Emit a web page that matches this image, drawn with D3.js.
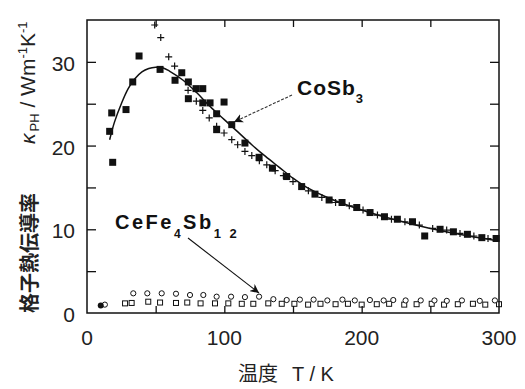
<!DOCTYPE html>
<html>
<head>
<meta charset="utf-8">
<script src="https://cdn.jsdelivr.net/npm/d3@7"></script>
<style>
  body { margin: 0; background: #fff; }
  svg { display: block; }
</style>
</head>
<body>
<svg id="chart" width="525" height="389"></svg>
<script>
// CoSb3 filled squares (T in K, kappa in W/mK)
var sqTemp  = [16.5, 18.0, 18.7, 28.4, 33.3, 37.9, 53.2, 64.1, 69.0, 73.8, 73.8, 79.4, 84.3, 84.3, 89.6, 99.8, 94.4, 94.4, 105.4, 115, 125.3, 135, 145.4, 156.3, 166, 176.3, 185.7, 196.4, 206.1, 216.6, 226, 237, 245.9, 257.1, 266.8, 277, 287.5, 297.9];
var sqKappa = [21.7, 23.9, 18.0, 24.3, 27.6, 30.7, 29.1, 27.8, 28.7, 27.6, 25.6, 26.8, 26.8, 25.1, 25.1, 25.2, 23.8, 21.9, 22.5, 20.3, 18.6, 17.3, 16.3, 15.1, 14.2, 13.5, 13.2, 12.6, 12.0, 11.5, 11.2, 10.9, 9.2, 10.0, 9.7, 9.4, 9.0, 8.9];

// CoSb3 plus signs
var plusTemp  = [49.3, 53.7, 59.5, 63.8, 73.6, 79.6, 84.3, 89, 94.4, 99.8, 105.4, 109.7, 115, 120, 125.5, 130.9, 137, 143, 150, 161.2, 171, 181, 191, 201, 211.5, 221.7, 231.5, 242, 251.7, 261.9, 271.6, 281.7, 292];
var plusKappa = [34.4, 32.9, 30.6, 29.5, 26.6, 25.3, 24.2, 23.3, 22.3, 21.5, 20.7, 20.1, 19.3, 18.8, 18.2, 17.7, 17.0, 16.4, 15.7, 14.6, 13.8, 13.2, 12.8, 12.3, 11.7, 11.2, 10.9, 10.5, 10.1, 9.9, 9.5, 9.2, 8.9];

// fitted curve
var fitTemp  = [16.5, 20, 25, 30, 35, 40, 45, 50, 55, 60, 70, 80, 90, 100, 110, 120, 130, 140, 150, 160, 175, 200, 225, 250, 275, 300];
var fitKappa = [20.7, 22.8, 25.0, 26.8, 28.0, 28.8, 29.2, 29.35, 29.3, 28.9, 27.8, 26.3, 24.6, 23.1, 21.6, 20.1, 18.7, 17.4, 16.1, 15.0, 13.8, 12.3, 11.1, 10.1, 9.3, 8.6];

// CeFe4Sb12 open squares
var ceSqTemp  = [27.7, 32.5, 44.6, 53.2, 64.8, 73, 82.7, 93.2, 102.9, 112.7, 121.1, 132, 141.8, 151, 161, 170, 181, 190, 200, 211, 220, 231, 240, 251, 260, 270, 281, 290, 300];
var ceSqKappa = [1.15, 1.2, 1.35, 1.25, 1.2, 1.25, 1.15, 1.15, 1.15, 1.1, 1.1, 1.15, 1.1, 1.1, 1.0, 1.1, 1.05, 1.1, 1.0, 1.05, 1.1, 1.0, 1.05, 1.1, 1.0, 1.05, 1.1, 1.0, 1.05];

// CeFe4Sb12 open circles
var ceCircTemp  = [13, 33.7, 43.9, 54.4, 64.8, 75, 84.7, 94.4, 104.9, 115, 125.3, 135.7, 145.4, 155, 165, 175, 186, 195, 206, 216, 223, 232, 243, 253, 262, 273, 286, 297];
var ceCircKappa = [1.0, 2.35, 2.35, 2.35, 2.3, 2.15, 2.15, 1.95, 1.95, 1.9, 1.95, 1.65, 1.55, 1.6, 1.6, 1.5, 1.6, 1.5, 1.55, 1.5, 1.55, 1.5, 1.5, 1.5, 1.45, 1.5, 1.45, 1.5];
var ceFilledTemp  = [10];
var ceFilledKappa = [0.9];

var xTicks = [0, 100, 200, 300];
var yTicks = [0, 10, 20, 30];

var svg = d3.select("#chart");
var margin = {left: 87, right: 26, top: 20, bottom: 76};
var width = 525 - margin.left - margin.right, height = 389 - margin.top - margin.bottom;
var ink = "#111";

var x = d3.scaleLinear().domain([0, 300]).range([0, width]);
var y = d3.scaleLinear().domain([0, 35]).range([height, 0]);

var g = svg.append("g").attr("transform", "translate(" + margin.left + "," + margin.top + ")");

var defs = svg.append("defs");
defs.append("marker").attr("id", "arrow")
    .attr("viewBox", "0 0 10 10").attr("refX", 10).attr("refY", 5)
    .attr("markerWidth", 9).attr("markerHeight", 9).attr("markerUnits", "userSpaceOnUse")
    .attr("orient", "auto")
    .append("path").attr("d", "M0,0 L10,5 L0,10 L3,5 Z").attr("fill", ink);

// frame with inward ticks
g.append("rect").attr("width", width).attr("height", height)
    .attr("fill", "none").attr("stroke", ink).attr("stroke-width", 1.5);

var minorX = d3.range(50, 300, 50), minorY = d3.range(5, 35, 5);
g.append("g").call(d3.axisBottom(x).tickValues(minorX).tickSize(-7).tickFormat(""))
    .attr("transform", "translate(0," + height + ")");
g.append("g").call(d3.axisTop(x).tickValues(minorX).tickSize(-7).tickFormat(""));
g.append("g").call(d3.axisLeft(y).tickValues(minorY).tickSize(-9).tickFormat(""));
g.append("g").call(d3.axisRight(y).tickValues(minorY).tickSize(-9).tickFormat(""))
    .attr("transform", "translate(" + width + ",0)");
g.selectAll(".domain").remove();
g.selectAll(".tick line").attr("stroke", ink).attr("stroke-width", 1.3);

// tick labels
g.selectAll(".xlab").data(xTicks).enter().append("text")
    .attr("x", function (d) { return x(d); }).attr("y", height + 32)
    .attr("text-anchor", "middle")
    .style("font-family", "Liberation Sans, Arial, sans-serif").style("font-size", "21px")
    .attr("fill", "#222").text(function (d) { return d; });
g.selectAll(".ylab").data(yTicks).enter().append("text")
    .attr("x", -12).attr("y", function (d) { return y(d) + 9; })
    .attr("text-anchor", "end")
    .style("font-family", "Liberation Sans, Arial, sans-serif").style("font-size", "21px")
    .attr("fill", "#222").text(function (d) { return d; });

// fitted curve
var line = d3.line().curve(d3.curveCatmullRom)
    .x(function (d) { return x(d[0]); }).y(function (d) { return y(d[1]); });
g.append("path").datum(d3.zip(fitTemp, fitKappa)).attr("d", line)
    .attr("fill", "none").attr("stroke", ink).attr("stroke-width", 1.5);

// CoSb3 plus
g.selectAll(".plus").data(d3.zip(plusTemp, plusKappa)).enter().append("path")
    .attr("transform", function (d) { return "translate(" + x(d[0]) + "," + y(d[1]) + ")"; })
    .attr("d", "M-3.5,0H3.5M0,-3.5V3.5").attr("stroke", ink).attr("stroke-width", 1.2);

// CoSb3 squares
g.selectAll(".sq").data(d3.zip(sqTemp, sqKappa)).enter().append("rect")
    .attr("x", function (d) { return x(d[0]) - 3.5; }).attr("y", function (d) { return y(d[1]) - 3.5; })
    .attr("width", 7).attr("height", 7).attr("fill", ink);

// CeFe4Sb12
g.selectAll(".cesq").data(d3.zip(ceSqTemp, ceSqKappa)).enter().append("rect")
    .attr("x", function (d) { return x(d[0]) - 2.5; }).attr("y", function (d) { return y(d[1]) - 2.5; })
    .attr("width", 5).attr("height", 5).attr("fill", "none").attr("stroke", ink).attr("stroke-width", 1);
g.selectAll(".cec").data(d3.zip(ceCircTemp, ceCircKappa)).enter().append("circle")
    .attr("cx", function (d) { return x(d[0]); }).attr("cy", function (d) { return y(d[1]); })
    .attr("r", 2.6).attr("fill", "#fff").attr("stroke", ink).attr("stroke-width", 1);
g.selectAll(".cef").data(d3.zip(ceFilledTemp, ceFilledKappa)).enter().append("circle")
    .attr("cx", function (d) { return x(d[0]); }).attr("cy", function (d) { return y(d[1]); })
    .attr("r", 3).attr("fill", ink);

// annotations
var bold = "Liberation Sans, Arial, sans-serif";
var lab1 = svg.append("text").attr("x", 297).attr("y", 95)
    .style("font-family", bold).style("font-weight", "bold").style("font-size", "21px")
    .style("letter-spacing", "1px").attr("fill", ink);
lab1.append("tspan").text("CoSb");
lab1.append("tspan").attr("dy", 8).style("font-size", "13px").text("3");
svg.append("line").attr("x1", 292).attr("y1", 95).attr("x2", 234).attr("y2", 122)
    .attr("stroke", "#333").attr("stroke-width", 1.1).attr("stroke-dasharray", "3,1.5")
    .attr("marker-end", "url(#arrow)");

var lab2 = svg.append("text").attr("x", 115).attr("y", 229)
    .style("font-family", bold).style("font-weight", "bold").style("font-size", "20px")
    .style("letter-spacing", "2.5px").attr("fill", ink);
lab2.append("tspan").text("CeFe");
lab2.append("tspan").attr("dy", 9).style("font-size", "12px").text("4");
lab2.append("tspan").attr("dy", -9).text("Sb");
lab2.append("tspan").attr("dy", 9).style("font-size", "13px").text("1 2");
svg.append("line").attr("x1", 188).attr("y1", 238).attr("x2", 259).attr("y2", 293)
    .attr("stroke", ink).attr("stroke-width", 1.1).attr("marker-end", "url(#arrow)");

// axis titles
var xt = svg.append("text").attr("x", 238).attr("y", 381).attr("fill", "#222");
xt.append("tspan").style("font-family", "Noto Sans CJK JP").style("font-size", "20px").text("温度");
xt.append("tspan").attr("dx", 14).style("font-family", bold).style("font-size", "20px").text("T / K");

var yt = svg.append("g").attr("transform", "rotate(-90)");
yt.append("text").attr("x", -313).attr("y", 37)
    .style("font-family", "Noto Sans CJK JP").style("font-weight", "bold").style("font-size", "20px")
    .attr("fill", "#222").text("格子熱伝導率");
var yk = yt.append("text").attr("x", -144).attr("y", 35)
    .style("font-family", bold).style("font-size", "21px").attr("fill", "#222");
yk.append("tspan").style("font-style", "italic").text("κ");
yk.append("tspan").attr("dy", 4).attr("dx", 2).style("font-size", "13px").text("PH");
yk.append("tspan").attr("dy", -4).text(" / Wm");
yk.append("tspan").attr("dy", -8).style("font-size", "13px").text("-1");
yk.append("tspan").attr("dy", 8).text("K");
yk.append("tspan").attr("dy", -8).style("font-size", "13px").text("-1");
</script>
</body>
</html>
